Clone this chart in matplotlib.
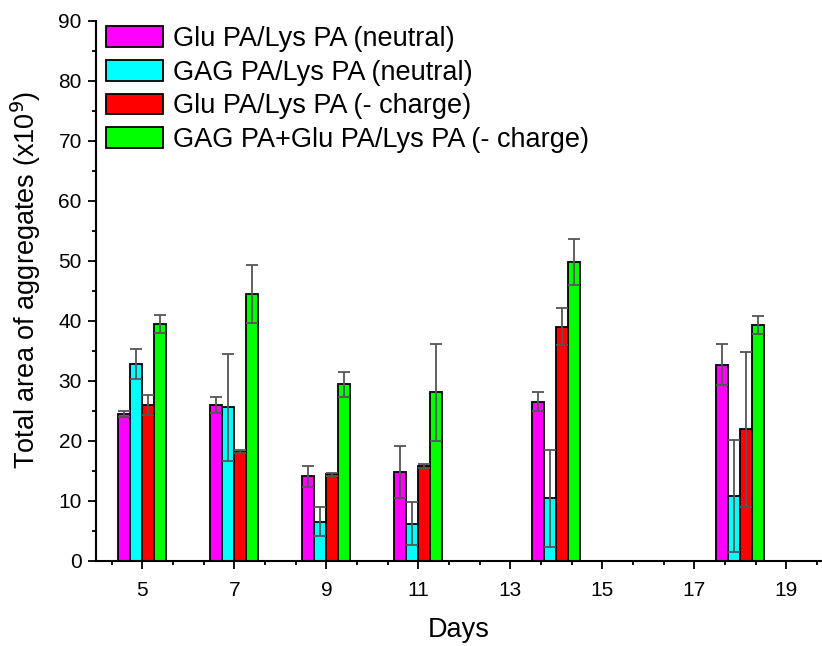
import numpy as np
import matplotlib
matplotlib.use("Agg")
import matplotlib.pyplot as plt
from matplotlib.ticker import FixedLocator, AutoMinorLocator, MultipleLocator

plt.rcParams['font.family'] = ['Liberation Sans', 'DejaVu Sans']

days = [5, 7, 9, 11, 14, 18]
day_ticks = [5, 7, 9, 11, 13, 15, 17, 19]

labels = ["Glu PA/Lys PA (neutral)",
          "GAG PA/Lys PA (neutral)",
          "Glu PA/Lys PA (- charge)",
          "GAG PA+Glu PA/Lys PA (- charge)"]
colors = ["#FF00FF", "#00FFFF", "#FF0000", "#00FF00"]

glu_neutral = [24.5, 26.0, 14.1, 14.8, 26.5, 32.7]
glu_neutral_err = [0.5, 1.3, 1.75, 4.4, 1.6, 3.4]
gag_neutral = [32.8, 25.6, 6.5, 6.2, 10.4, 10.8]
gag_neutral_err = [2.5, 8.9, 2.4, 3.6, 8.1, 9.4]
glu_charge = [26.0, 18.2, 14.4, 15.8, 39.0, 21.9]
glu_charge_err = [1.7, 0.3, 0.2, 0.4, 3.1, 12.9]
gag_glu_charge = [39.5, 44.5, 29.4, 28.1, 49.8, 39.3]
gag_glu_charge_err = [1.5, 4.8, 2.1, 8.1, 3.8, 1.5]

series = [glu_neutral, gag_neutral, glu_charge, gag_glu_charge]
errors = [glu_neutral_err, gag_neutral_err, glu_charge_err, gag_glu_charge_err]

fig = plt.figure(figsize=(8.22, 6.46), dpi=100)
ax = fig.add_axes([0.1172, 0.1320, 0.8828, 0.8359])

# four bars per day, errorbars drawn on top
width = 0.26
x = np.array(days, dtype=float)
for i, (vals, errs) in enumerate(zip(series, errors)):
    pos = x + (i - 1.5) * width
    ax.bar(pos, vals, width=width, color=colors[i], edgecolor='black',
           linewidth=1.3, label=labels[i], zorder=2)
    ax.errorbar(pos, vals, yerr=errs, fmt='none', ecolor='#555555',
                elinewidth=1.3, capsize=4.3, capthick=1.3, zorder=3)

ax.set_xlim(4, 19.776)
ax.set_ylim(0, 90)

ax.xaxis.set_major_locator(FixedLocator(day_ticks))
ax.xaxis.set_minor_locator(AutoMinorLocator(3))
ax.yaxis.set_major_locator(MultipleLocator(10))
ax.yaxis.set_minor_locator(MultipleLocator(5))

for side in ['top', 'right']:
    ax.spines[side].set_visible(False)
for side in ['left', 'bottom']:
    ax.spines[side].set_linewidth(1.5)

ax.tick_params(axis='both', which='major', direction='out', length=5.5,
               width=1.3, labelsize=15)
ax.tick_params(axis='both', which='minor', direction='out', length=3,
               width=1.3)
ax.tick_params(axis='x', which='major', pad=9)
ax.tick_params(axis='y', which='major', pad=5)

ax.set_xlabel("Days", fontsize=19.5, labelpad=12)
ax.set_ylabel("Total area of aggregates (x10$^9$)", fontsize=19.5)
ax.yaxis.set_label_coords(-0.074, 0.52)

ax.legend(loc='upper left', bbox_to_anchor=(0.014, 0.99), frameon=False,
          fontsize=19.5, borderpad=0, borderaxespad=0, handlelength=2.1,
          handleheight=0.8, handletextpad=0.35, labelspacing=0.28)

fig.savefig("out.png", dpi=100)
